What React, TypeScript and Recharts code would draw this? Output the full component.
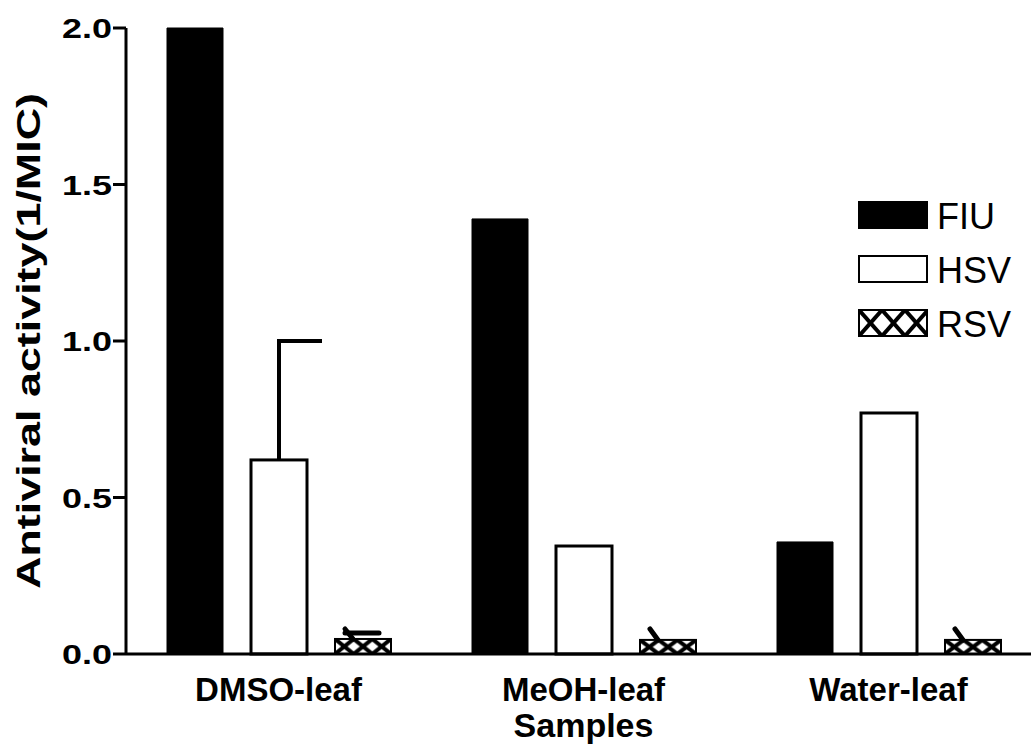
import React from "react";
import { BarChart, Bar, XAxis, YAxis } from "recharts";

const samples = ["DMSO-leaf", "MeOH-leaf", "Water-leaf"];
const seriesNames = ["FIU", "HSV", "RSV"];
const fiu = [2.0, 1.39, 0.358];
const hsv = [0.62, 0.345, 0.77];
const hsvErr = [0.38, 0, 0];
const rsv = [0.048, 0.045, 0.045];
const rsvErr = [0.032, 0.035, 0.035];
const yTicks = [0, 0.5, 1.0, 1.5, 2.0];

const data = samples.map((s, i) => ({
    name: s,
    FIU: fiu[i],
    HSV: hsv[i],
    RSV: rsv[i],
    hsvErr: hsvErr[i],
    rsvErr: rsvErr[i],
}));

const FONT = "'Liberation Sans', Arial, sans-serif";

const HsvShape = (props: any) => {
    const { x, y, width, height, value, payload } = props;
    const perUnit = value ? height / value : 0;
    const err = payload.hsvErr || 0;
    const cx = x + width / 2;
    const top = y - err * perUnit;
    return (
        <g>
            <rect x={x} y={y} width={width} height={height} fill="#fff" stroke="#000" strokeWidth={3} />
            {err > 0 && (
                <g stroke="#000" strokeWidth={4}>
                    <line x1={cx} y1={y} x2={cx} y2={top} />
                    <line x1={cx - 2} y1={top} x2={cx + 43} y2={top} />
                </g>
            )}
        </g>
    );
};

const RsvShape = (props: any) => {
    const { x, y, width, height, value, payload, index } = props;
    const perUnit = value ? height / value : 0;
    const top = y - (payload.rsvErr || 0) * perUnit;
    const id = `hatch-bar-${index}`;
    const pw = width / 3;
    return (
        <g>
            <defs>
                <pattern id={id} patternUnits="userSpaceOnUse" x={x} y={y} width={pw} height={height}>
                    <rect width={pw} height={height} fill="#fff" />
                    <line x1={0} y1={0} x2={pw} y2={height} stroke="#000" strokeWidth={4} />
                    <line x1={0} y1={height} x2={pw} y2={0} stroke="#000" strokeWidth={4} />
                </pattern>
            </defs>
            <rect x={x} y={y} width={width} height={height} fill={`url(#${id})`} stroke="#000" strokeWidth={2} />
            <g stroke="#000" strokeWidth={5} strokeLinecap="round">
                <line x1={x + 10} y1={top} x2={x + 18} y2={y} />
                {index === 0 && <line x1={x + 10} y1={top + 4} x2={x + 44} y2={top + 4} />}
            </g>
        </g>
    );
};

const XTick = (props: any) => {
    const { x, y, payload } = props;
    return (
        <text x={x} y={y + 47} textAnchor="middle" fontFamily={FONT} fontSize={33} fontWeight="bold" fill="#000">
            {payload.value}
        </text>
    );
};

const YTick = (props: any) => {
    const { x, y, payload } = props;
    return (
        <text
            x={x}
            y={y}
            dy="0.36em"
            textAnchor="end"
            fontFamily={FONT}
            fontSize={28}
            fontWeight="bold"
            fill="#000"
            textLength={50}
            lengthAdjust="spacingAndGlyphs"
        >
            {Number(payload.value).toFixed(1)}
        </text>
    );
};

const YLabel = (props: any) => {
    const vb = props.viewBox || { x: 0, y: 28, width: 126, height: 626 };
    const cy = vb.y + vb.height / 2;
    const bx = vb.x + 40;
    return (
        <text
            x={bx}
            y={cy}
            transform={`rotate(-90, ${bx}, ${cy})`}
            textAnchor="middle"
            fontFamily={FONT}
            fontSize={33}
            fontWeight="bold"
            fill="#000"
            textLength={496}
            lengthAdjust="spacingAndGlyphs"
        >
            Antiviral activity(1/MIC)
        </text>
    );
};

const XLabel = (props: any) => {
    const vb = props.viewBox || { x: 126, y: 654, width: 915, height: 97 };
    return (
        <text
            x={vb.x + vb.width / 2}
            y={vb.y + 83}
            textAnchor="middle"
            fontFamily={FONT}
            fontSize={34}
            fontWeight="bold"
            fill="#000"
        >
            Samples
        </text>
    );
};

const Legend = () => (
    <svg
        width={181}
        height={150}
        style={{ position: "absolute", left: 850, top: 195 }}
    >
        <defs>
            <pattern id="hatch-legend" patternUnits="userSpaceOnUse" x={9} y={115} width={23} height={26}>
                <rect width={23} height={26} fill="#fff" />
                <line x1={0} y1={0} x2={23} y2={26} stroke="#000" strokeWidth={4} />
                <line x1={0} y1={26} x2={23} y2={0} stroke="#000" strokeWidth={4} />
            </pattern>
        </defs>
        {seriesNames.map((n, i) => {
            const top = 7 + i * 54;
            const fill = i === 0 ? "#000" : i === 1 ? "#fff" : "url(#hatch-legend)";
            return (
                <g key={n}>
                    <rect x={9} y={top} width={68} height={26} fill={fill} stroke="#000" strokeWidth={2} />
                    <text x={87} y={top + 27} fontFamily={FONT} fontSize={36} fill="#000">
                        {n}
                    </text>
                </g>
            );
        })}
    </svg>
);

export default function App() {
    return (
        <div
            style={{
                position: "absolute",
                left: 0,
                top: 0,
                width: 1031,
                height: 751,
                overflow: "hidden",
                background: "#fff",
            }}
        >
            <BarChart
                width={1045}
                height={751}
                data={data}
                margin={{ top: 28, right: 4, left: 0, bottom: 0 }}
                barSize={56}
                barGap={28}
            >
                <XAxis
                    dataKey="name"
                    height={97}
                    axisLine={{ stroke: "#000", strokeWidth: 3 }}
                    tickLine={false}
                    tickSize={0}
                    tickMargin={0}
                    tick={<XTick />}
                    label={{ content: <XLabel /> }}
                />
                <YAxis
                    width={126}
                    domain={[0, 2]}
                    ticks={yTicks}
                    axisLine={{ stroke: "#000", strokeWidth: 3 }}
                    tickLine={{ stroke: "#000", strokeWidth: 3 }}
                    tickSize={13}
                    tickMargin={1}
                    tick={<YTick />}
                    label={{ content: <YLabel /> }}
                />
                <Bar dataKey="FIU" fill="#000" stroke="#000" isAnimationActive={false} />
                <Bar dataKey="HSV" shape={<HsvShape />} isAnimationActive={false} />
                <Bar dataKey="RSV" shape={<RsvShape />} isAnimationActive={false} />
            </BarChart>
            <Legend />
        </div>
    );
}
